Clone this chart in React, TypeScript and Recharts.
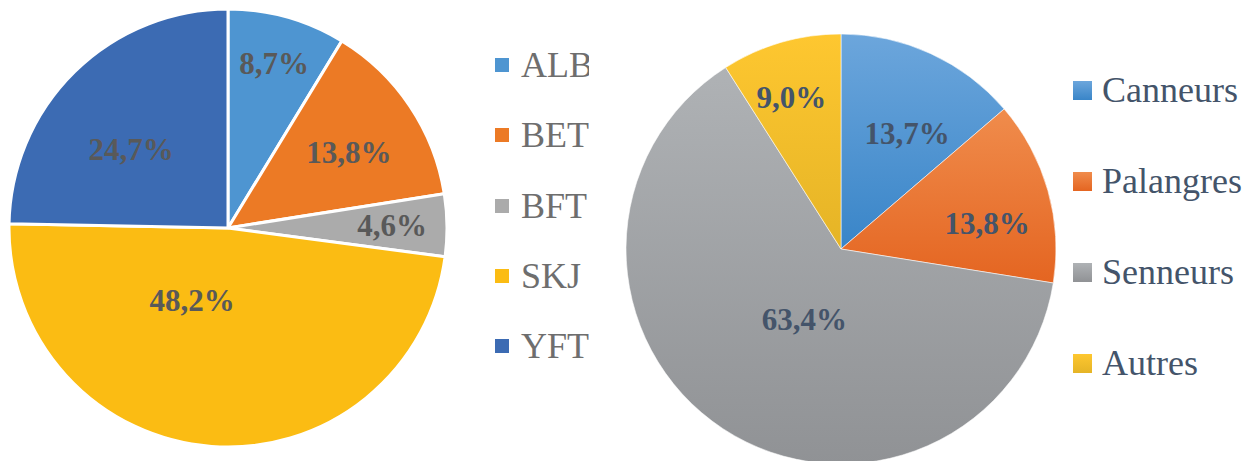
import { PieChart, Pie, Cell, Legend } from 'recharts';

// left pie: species share
const speciesNames = ['ALB', 'BET', 'BFT', 'SKJ', 'YFT'];
const speciesValues = [8.7, 13.8, 4.6, 48.2, 24.7];

// right pie: gear share
const gearNames = ['Canneurs', 'Palangres', 'Senneurs', 'Autres'];
const gearValues = [13.7, 13.8, 63.4, 9.0];

const SPECIES_COLORS = ['#4E95D1', '#EC7A25', '#ABABAB', '#FBBC13', '#3C6BB3'];
const GEAR_GRADIENTS = [
  ['#6CA6DC', '#3985C8'],
  ['#F08C4C', '#E46521'],
  ['#AFB2B5', '#909295'],
  ['#FEC730', '#E5B426'],
];

// label placement (radius factor, angle shift in degrees, clockwise)
const SPECIES_LABEL_POS = [
  [0.78, 0], [0.65, 2], [0.75, 0], [0.37, 22], [0.57, -6.5],
];
const GEAR_LABEL_POS = [
  [0.62, 5], [0.69, 6], [0.37, -6], [0.74, -2],
];

const SERIF = "'Liberation Serif', 'DejaVu Serif', serif";
const RADIAN = Math.PI / 180;

const speciesData = speciesNames.map((name, i) => ({ name, value: speciesValues[i] }));
const gearData = gearNames.map((name, i) => ({ name, value: gearValues[i] }));

const fmt = (v: number) => `${v.toFixed(1).replace('.', ',')}%`;

function makeLabel(pos: number[][], color: string) {
  return (props: any) => {
    const { cx, cy, midAngle, outerRadius, index, value } = props;
    const [f, shift] = pos[index];
    const a = (midAngle - shift) * RADIAN;
    const r = outerRadius * f;
    return (
      <text
        x={cx + r * Math.cos(a)}
        y={cy - r * Math.sin(a)}
        fill={color}
        textAnchor="middle"
        dominantBaseline="central"
        style={{ fontFamily: SERIF, fontWeight: 700, fontSize: 31 }}
      >
        {fmt(value)}
      </text>
    );
  };
}

function makeLegend(names: string[], colors: string[], rowH: number, box: number, gap: number, color: string) {
  return () => (
    <div style={{ fontFamily: SERIF, fontSize: 36, color }}>
      {names.map((n, i) => (
        <div key={n} style={{ height: rowH, display: 'flex', alignItems: 'center', whiteSpace: 'nowrap' }}>
          <span style={{ width: box, height: box, background: colors[i], marginRight: gap, flexShrink: 0 }} />
          <span style={{ lineHeight: 1 }}>{n}</span>
        </div>
      ))}
    </div>
  );
}

export default function App() {
  return (
    <div style={{ position: 'fixed', left: 0, top: 0, width: 1257, height: 461, background: '#fff', overflow: 'hidden', fontFamily: SERIF }}>
      <div style={{ position: 'absolute', left: 0, top: 0, width: 589, height: 461, overflow: 'hidden' }}>
        <PieChart width={589} height={461} margin={{ top: 0, right: 0, bottom: 0, left: 0 }}>
          <Pie
            data={speciesData}
            dataKey="value"
            nameKey="name"
            cx={228}
            cy={228}
            outerRadius={219}
            startAngle={90}
            endAngle={-270}
            stroke="#fff"
            strokeWidth={3}
            labelLine={false}
            label={makeLabel(SPECIES_LABEL_POS, '#595959')}
            isAnimationActive={false}
          >
            {speciesData.map((_, i) => (
              <Cell key={i} fill={SPECIES_COLORS[i]} />
            ))}
          </Pie>
          <Legend
            layout="vertical"
            content={makeLegend(speciesNames, SPECIES_COLORS, 70.25, 14, 12, '#6E6E6E')}
            wrapperStyle={{ left: 495, top: 30, width: 'auto' }}
          />
        </PieChart>
      </div>
      <div style={{ position: 'absolute', left: 600, top: 0, width: 657, height: 461 }}>
        <PieChart width={657} height={461} margin={{ top: 0, right: 0, bottom: 0, left: 0 }}>
          <defs>
            {GEAR_GRADIENTS.map((g, i) => (
              <linearGradient key={i} id={`gear${i}`} x1="0" y1="0" x2="0" y2="1">
                <stop offset="0%" stopColor={g[0]} />
                <stop offset="100%" stopColor={g[1]} />
              </linearGradient>
            ))}
          </defs>
          <Pie
            data={gearData}
            dataKey="value"
            nameKey="name"
            cx={241}
            cy={249}
            outerRadius={215}
            startAngle={90}
            endAngle={-270}
            stroke="#fff"
            strokeWidth={0.8}
            strokeOpacity={0.7}
            labelLine={false}
            label={makeLabel(GEAR_LABEL_POS, '#44546A')}
            isAnimationActive={false}
          >
            {gearData.map((_, i) => (
              <Cell key={i} fill={`url(#gear${i})`} />
            ))}
          </Pie>
          <Legend
            layout="vertical"
            content={makeLegend(gearNames, GEAR_GRADIENTS.map((g) => `linear-gradient(${g[0]}, ${g[1]})`), 91, 19, 10, '#44546A')}
            wrapperStyle={{ left: 473, top: 44.5, width: 'auto' }}
          />
        </PieChart>
      </div>
    </div>
  );
}
